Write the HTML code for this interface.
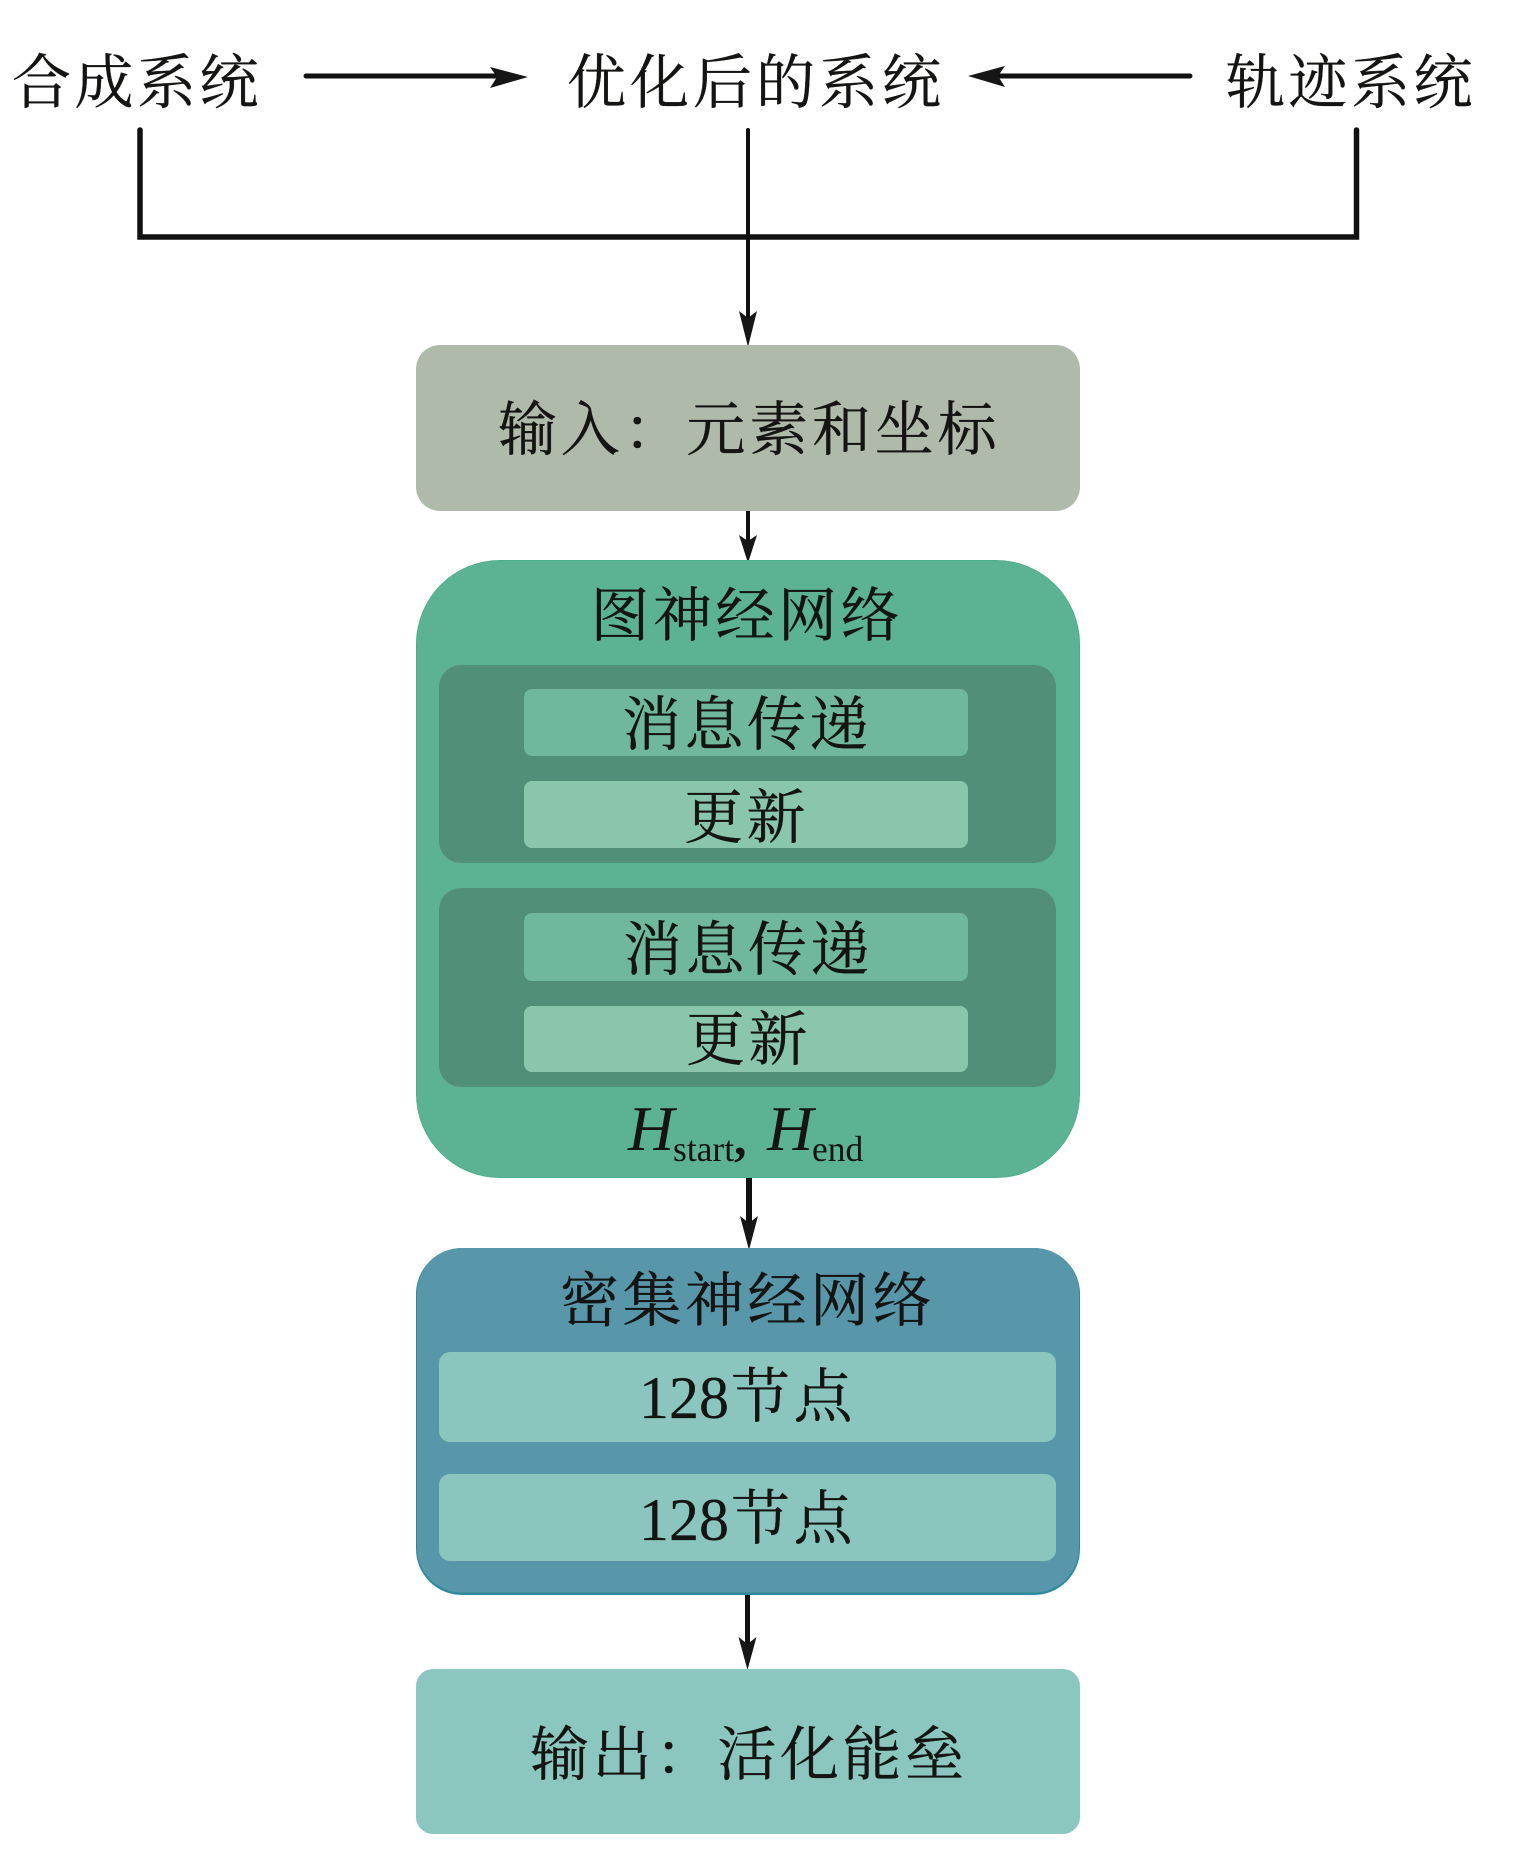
<!DOCTYPE html>
<html lang="zh"><head><meta charset="utf-8"><style>
html,body{margin:0;padding:0;background:#fff}
svg{display:block}
.z{font-family:"Liberation Serif","Noto Serif CJK SC",serif;font-size:59px;letter-spacing:3.5px;fill:#141412;stroke:#141412;stroke-width:.35px}
.d{font-family:"Liberation Serif",serif;font-size:60px;fill:#141412;stroke:#141412;stroke-width:.2px}
.h{font-family:"Liberation Serif",serif;font-style:italic;font-size:64px;fill:#141412}
.s{font-family:"Liberation Serif",serif;font-size:35.500px;fill:#141412}
</style></head><body>
<svg width="1517" height="1850" viewBox="0 0 1517 1850" xmlns="http://www.w3.org/2000/svg">
<rect width="1517" height="1850" fill="#fff"/>
<!-- top connectors -->
<g stroke="#111" fill="none" stroke-linecap="round">
<path d="M306 76H500" stroke-width="5"/>
<path d="M1190 76H990" stroke-width="5"/>
<path d="M140 130V237H1356.500V130" stroke-width="5.500" stroke-linejoin="miter"/>
<path d="M748 130V320" stroke-width="4"/>
<path d="M748 511V540" stroke-width="4"/>
<path d="M749 1178V1225" stroke-width="6" stroke-linecap="butt"/>
<path d="M747.500 1595V1645" stroke-width="5" stroke-linecap="butt"/>
</g>
<g fill="#161616">
<path d="M528 77L490 67L497 77L490 88Z"/>
<path d="M968 76L1005 66L998 76L1005 87Z"/>
<path d="M748 347L739 311L748 318L757 311Z"/>
<path d="M748 563L739 535L748 541L757 535Z"/>
<path d="M749 1250L740 1216L749 1223L758 1216Z"/>
<path d="M747.500 1670L738.500 1637L747.500 1644L756.500 1637Z"/>
</g>
<!-- boxes -->
<rect x="416" y="345" width="664" height="166" rx="24" fill="#b0baaa"/>
<rect x="416" y="560" width="664" height="618" rx="84" fill="#4fae8e"/>
<rect x="417" y="561" width="662" height="616" rx="83" fill="#5bb394"/>
<rect x="439" y="665" width="617" height="198" rx="22" fill="#528f78"/>
<rect x="524" y="689" width="444" height="67" rx="8" fill="#6fb89c"/>
<rect x="524" y="781" width="444" height="67" rx="8" fill="#8ac6ac"/>
<rect x="439" y="888" width="617" height="199" rx="22" fill="#528f78"/>
<rect x="524" y="913" width="444" height="68" rx="8" fill="#6fb89c"/>
<rect x="524" y="1006" width="444" height="66" rx="8" fill="#8ac6ac"/>
<rect x="416" y="1248" width="664" height="347" rx="46" fill="#2f8a9c"/>
<rect x="417" y="1248" width="662" height="344.500" rx="45" fill="#5896aa"/>
<rect x="439" y="1352" width="617" height="90" rx="11" fill="#8ac6bd"/>
<rect x="439" y="1474" width="617" height="87" rx="11" fill="#8ac6bd"/>
<rect x="416" y="1669" width="664" height="165" rx="17" fill="#8bc6bf"/>
<!-- labels -->
<text class="z" x="12" y="103">合成系统</text>
<text class="z" x="567" y="103" style="letter-spacing:4px">优化后的系统</text>
<text class="z" x="1226" y="103">轨迹系统</text>
<text class="z" x="498" y="450" style="letter-spacing:3.800px">输入：元素和坐标</text>
<text class="z" x="590.500" y="636">图神经网络</text>
<text class="z" x="622" y="745">消息传递</text>
<text class="z" x="684" y="838">更新</text>
<text class="z" x="623" y="970">消息传递</text>
<text class="z" x="686" y="1060">更新</text>
<text class="z" x="560" y="1321">密集神经网络</text>
<text class="d" x="639" y="1418">128</text>
<text class="z" x="731" y="1417">节点</text>
<text class="d" x="639" y="1540">128</text>
<text class="z" x="731" y="1539">节点</text>
<text class="z" x="530" y="1775">输出：活化能垒</text>
<text class="h" x="628" y="1150">H</text>
<text class="s" x="673" y="1161">start</text>
<text class="s" x="734" y="1155" style="font-size:50px;font-weight:bold">,</text>
<text class="h" x="767" y="1150">H</text>
<text class="s" x="812" y="1161">end</text>
</svg>
</body></html>
